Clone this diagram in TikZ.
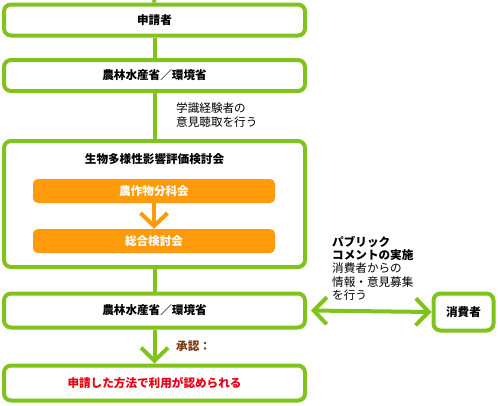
\documentclass[tikz,border=0pt]{standalone}
\usepackage{fontspec}
\setmainfont{Noto Sans CJK JP}
\usetikzlibrary{arrows.meta}
\definecolor{lime}{HTML}{80C31C}
\definecolor{orng}{HTML}{FF9A0A}
\definecolor{brwn}{HTML}{7A3A10}
\definecolor{redt}{HTML}{E60012}
\tikzset{
  gbox/.style={draw=lime, line width=4pt, rounded corners=7pt, fill=white,
    minimum width=301pt, inner sep=0pt, font=\fontsize{11.6}{13}\selectfont\bfseries},
  obox/.style={fill=orng, rounded corners=5pt, minimum width=242pt, minimum height=24pt,
    inner sep=0pt, text=white, font=\fontsize{11.6}{13}\selectfont\bfseries},
  gline/.style={draw=lime, line width=4pt},
  chev/.style={-{Straight Barb[length=13pt,width=27pt]}},
  dchev/.style={{Straight Barb[length=13pt,width=27pt]}-{Straight Barb[length=13pt,width=27pt]}},
  note/.style={align=left, anchor=north west, inner sep=0pt, font=\fontsize{11.6}{14.5}\selectfont}
}
\begin{document}
\begin{tikzpicture}[x=1pt,y=-1pt]
\useasboundingbox (0,0) rectangle (498,405);
\coordinate (top) at (154,0);
\node[gbox, minimum height=31pt] (b1) at (154.5,20) {申請者};
\node[gbox, minimum height=31pt] (b2) at (154.5,75.5) {農林水産省／環境省};
\node[gbox, minimum height=126pt] (b3) at (154.5,204) {};
\node[font=\fontsize{11.6}{13}\selectfont\bfseries, inner sep=0pt] (t3) at (154.5,159) {生物多様性影響評価検討会};
\node[obox] (o1) at (154,191) {農作物分科会};
\node[obox] (o2) at (154,241) {総合検討会};
\node[gbox, minimum height=34pt] (b4) at (154.5,310.5) {農林水産省／環境省};
\node[gbox, minimum height=35pt, text=redt] (b5) at (154.5,383) {申請した方法で利用が認められる};
\node[gbox, minimum width=60pt, minimum height=37pt] (c) at (463.5,312) {消費者};
\draw[gline] (top) -- (b1.north);
\draw[gline] (b1) -- (b2);
\draw[gline] (b2) -- (b3);
\draw[gline] (b3) -- (b4);
\draw[draw=orng, line width=4pt, chev] (o1) -- (o2);
\draw[gline, chev] (b4) -- (b5);
\draw[gline, dchev] (b4.east) ++(4,0) coordinate (l) (l) -- (c.west);
\node[note] (n1) at (176,102) {学識経験者の\\意見聴取を行う};
\node[font=\fontsize{11.6}{13}\selectfont\bfseries, text=brwn, anchor=west, inner sep=0pt] (n2) at (176,346) {承認：};
\node[note] (n3) at (332,236) {\textbf{パブリック}\\[-1.5pt]\textbf{コメントの実施}\\[-1pt]消費者からの\\[-1pt]情報・意見募集\\[-1pt]を行う};
\end{tikzpicture}
\end{document}
